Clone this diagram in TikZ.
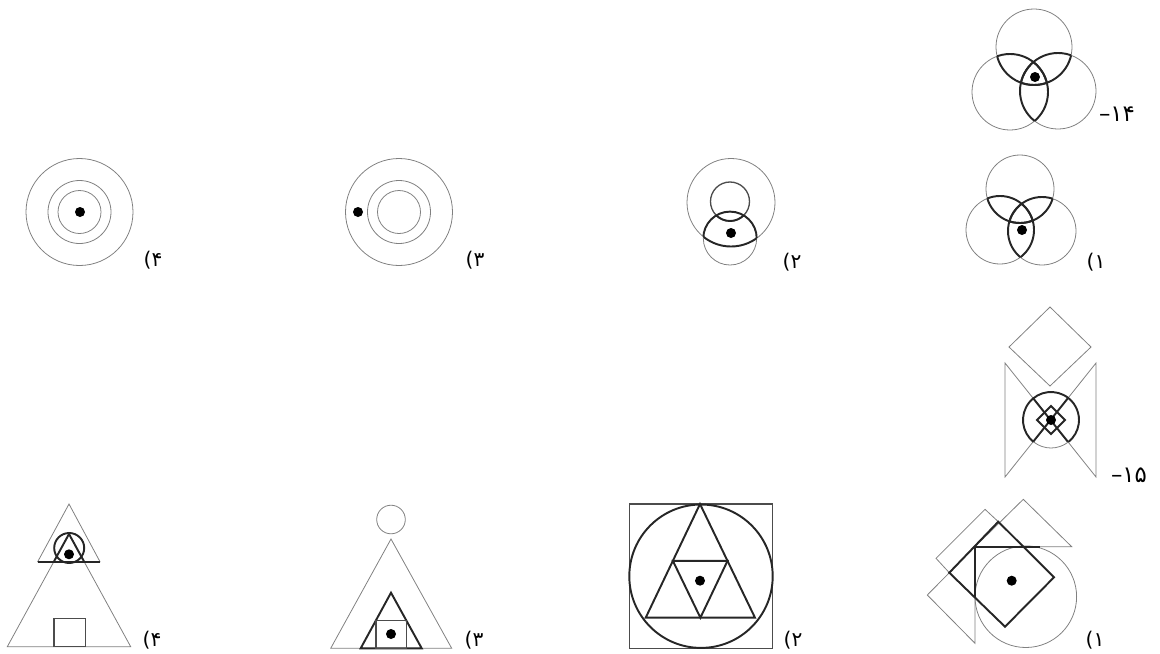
\documentclass[tikz,border=0pt]{standalone}
\usepackage{fontspec}
\newfontfamily\fadigits{DejaVu Sans}

\begin{document}
\begin{tikzpicture}[x=0.02cm, y=-0.02cm,
  faint/.style={draw=black!50, line width=0.45pt},
  medium/.style={draw=black!70, line width=0.75pt},
  heavy/.style={draw=black!85, line width=1.1pt},
  dot/.style={fill=black},
  num/.style={font=\fadigits\fontsize{11.5}{13}\selectfont, inner sep=0pt},
  qnum/.style={font=\fadigits\fontsize{13}{15}\selectfont, inner sep=0pt}
]
\useasboundingbox (0,0) rectangle (1160,653);

% Soal 14
\coordinate (qa) at (1034,47);
\coordinate (qb) at (1010,92);
\coordinate (qc) at (1058,91);
\foreach \p in {qa,qb,qc} \draw[faint] (\p) circle[radius=38];
\foreach \p/\q in {qa/qb,qa/qc,qb/qa,qb/qc,qc/qa,qc/qb}{
  \begin{scope}
    \clip (\q) circle[radius=38];
    \draw[heavy] (\p) circle[radius=38];
  \end{scope}
}
\fill[dot] (1035,77) circle[radius=5];
\node[qnum] (n14) at (1117,114) {–۱۴};

% Soal 14, gozine 1
\coordinate (oa) at (1020,189);
\coordinate (ob) at (1000,230);
\coordinate (oc) at (1042,231);
\foreach \p in {oa,ob,oc} \draw[faint] (\p) circle[radius=34];
\foreach \p/\q in {oa/ob,oa/oc,ob/oa,ob/oc,oc/oa,oc/ob}{
  \begin{scope}
    \clip (\q) circle[radius=34];
    \draw[heavy] (\p) circle[radius=34];
  \end{scope}
}
\fill[dot] (1022,230) circle[radius=5];
\node[num] (a1) at (1096,262) {(۱};

% gozine 2
\draw[faint] (731,202.5) circle[radius=44];
\draw[medium] (730,201.5) circle[radius=19.5];
\draw[faint] (730,238.3) circle[radius=26.7];
\begin{scope}
  \clip (730,238.3) circle[radius=26.7];
  \draw[heavy] (731,202.5) circle[radius=44];
  \draw[heavy] (730,201.5) circle[radius=19.5];
\end{scope}
\begin{scope}
  \clip (731,202.5) circle[radius=44];
  \draw[heavy] (730,238.3) circle[radius=26.7];
\end{scope}
\fill[dot] (731,233) circle[radius=5];
\node[num] (a2) at (792,262) {(۲};

% gozine 3
\foreach \r in {53.5,31.5,21.5} \draw[faint] (399,212) circle[radius=\r];
\fill[dot] (358,212) circle[radius=5];
\node[num] (a3) at (475,260) {(۳};

% gozine 4
\foreach \r in {53.5,31.5,21.5} \draw[faint] (79.5,212) circle[radius=\r];
\fill[dot] (80,212) circle[radius=5];
\node[num] (a4) at (153,260) {(۴};

% Soal 15
\draw[faint] (1050,307) -- (1091,347) -- (1050,386) -- (1009,347) -- cycle;
\draw[faint] (1005,363) -- (1096,477) -- (1096,363) -- (1005,477) -- cycle;
\begin{scope}
  \clip (1051,420) circle[radius=28];
  \draw[heavy] (1005,363) -- (1096,477);
  \draw[heavy] (1096,363) -- (1005,477);
\end{scope}
\draw[heavy] (1051,420) ++(128.3:28) arc[start angle=128.3, end angle=411.7, radius=28];
\draw[faint] (1051,420) ++(51.7:28) arc[start angle=51.7, end angle=128.3, radius=28];
\draw[heavy] (1037,420) -- (1051,406) -- (1065,420) -- (1051,434) -- cycle;
\fill[dot] (1051,420) circle[radius=5];
\node[qnum] (n15) at (1129,475) {–۱۵};

% Soal 15, gozine 1
\draw[faint] (1023.3,499.3) -- (1071.7,546.7) -- (975,546.7) -- cycle;
\draw[faint] (985,509.3) -- (936,558.3) -- (949.3,572.7) -- (998.3,521.7) -- cycle;
\draw[faint] (975,546.7) -- (927.3,595) -- (975,643.3) -- cycle;
\draw[faint] (1025.8,596.7) circle[radius=50.8];
\draw[heavy] (998.3,521.7) -- (1054,577.3) -- (1005,626.7) -- (949.3,572.7) -- cycle;
\draw[heavy] (975,596.7) -- (975,546.7) -- (1040,546.7);
\fill[dot] (1011.7,580.7) circle[radius=5];
\node[num] (b1) at (1095,640) {(۱};

% gozine 2
\draw[medium] (629.3,504) rectangle (772.7,648.3);
\draw[heavy] (701,576.2) circle[radius=71.7];
\draw[heavy] (700,504) -- (645.7,617.7) -- (755,617.7) -- cycle;
\draw[heavy] (672.9,560.9) -- (727.5,560.9) -- (700.4,617.7) -- cycle;
\fill[dot] (700,580.7) circle[radius=5];
\node[num] (b2) at (793,640) {(۲};

% gozine 3
\draw[faint] (391,519.5) circle[radius=14.3];
\draw[faint] (391,539) -- (330.7,648.3) -- (451.7,648.3) -- cycle;
\draw[heavy] (391,592.7) -- (360.7,648.3) -- (421.7,648.3) -- cycle;
\draw[medium] (376,620.7) rectangle (406.7,648.3);
\fill[dot] (391,634) circle[radius=5];
\node[num] (b3) at (474,640) {(۳};

% gozine 4
\draw[faint] (69,504) -- (37.7,561.7) -- (100,561.7) -- cycle;
\draw[faint] (69,534) -- (7.3,646.7) -- (130.7,646.7) -- cycle;
\begin{scope}
  \clip (69,504) -- (37.7,561.7) -- (100,561.7) -- cycle;
  \draw[heavy] (69,534) -- (7.3,646.7) -- (130.7,646.7) -- cycle;
\end{scope}
\draw[heavy] (37.7,561.7) -- (100,561.7);
\draw[heavy] (69.2,548) circle[radius=15];
\draw[medium] (54,618.3) rectangle (85.7,646.7);
\fill[dot] (69,554.3) circle[radius=5];
\node[num] (b4) at (152,640) {(۴};

\end{tikzpicture}
\end{document}
